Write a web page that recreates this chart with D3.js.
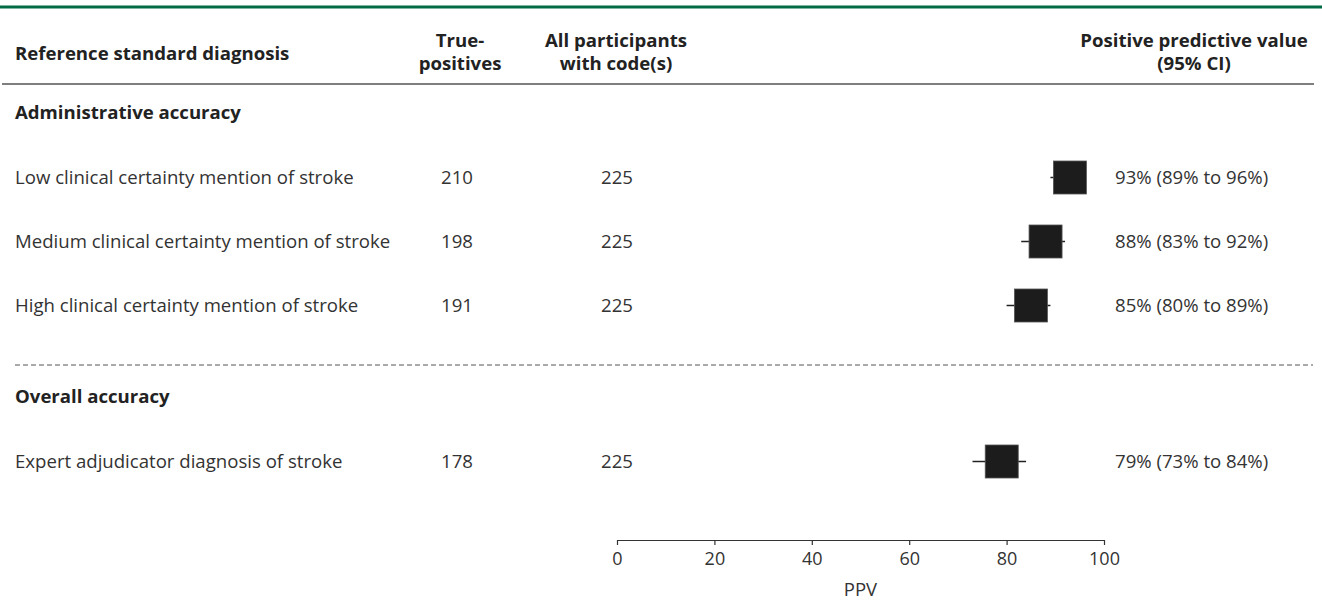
<!DOCTYPE html>
<html><head><meta charset="utf-8">
<script src="https://cdn.jsdelivr.net/npm/d3@7"></script>
<style>
html,body{margin:0;padding:0;background:#fff;}
svg{display:block;font-family:"Open Sans",sans-serif;}
</style></head>
<body><svg id="c" width="1322" height="604"></svg>
<script>
// ---- data ----
const sections = ["Administrative accuracy", "Overall accuracy"];
const labels = [
  "Low clinical certainty mention of stroke",
  "Medium clinical certainty mention of stroke",
  "High clinical certainty mention of stroke",
  "Expert adjudicator diagnosis of stroke"
];
const rowSection = [0, 0, 0, 1];
const truePositives = [210, 198, 191, 178];
const allWithCodes = [225, 225, 225, 225];
const ppv = [93, 88, 85, 79];
const ciLow = [89, 83, 80, 73];
const ciHigh = [96, 92, 89, 84];
const xTicks = [0, 20, 40, 60, 80, 100];

// ---- layout ----
const svg = d3.select("#c");
const W = 1322;
const FS = 18.6;
const x = d3.scaleLinear().domain([0, 100]).range([617, 1104]);
const rowY = [177.5, 241.5, 305.5, 461.5];
const sectionY = [112.5, 396];
const textCol = "#333";

// top green rule
svg.append("line").attr("x1", 0).attr("x2", W).attr("y1", 7).attr("y2", 7)
  .attr("stroke", "#006b45").attr("stroke-width", 3);

// headers
const hdr = svg.append("g").attr("font-weight", 700).attr("font-size", FS).attr("fill", "#222");
hdr.append("text").attr("x", 15).attr("y", 60).text("Reference standard diagnosis");
const h2 = hdr.append("text").attr("text-anchor", "middle");
h2.append("tspan").attr("x", 460).attr("y", 47).text("True-");
h2.append("tspan").attr("x", 460).attr("y", 70).text("positives");
const h3 = hdr.append("text").attr("text-anchor", "middle");
h3.append("tspan").attr("x", 616).attr("y", 47).text("All participants");
h3.append("tspan").attr("x", 616).attr("y", 70).text("with code(s)");
const h4 = hdr.append("text").attr("text-anchor", "middle");
h4.append("tspan").attr("x", 1194).attr("y", 47).text("Positive predictive value");
h4.append("tspan").attr("x", 1194).attr("y", 70).text("(95% CI)");

svg.append("line").attr("x1", 2).attr("x2", 1314).attr("y1", 84).attr("y2", 84)
  .attr("stroke", "#555").attr("stroke-width", 1.5);

// section headers
svg.selectAll("text.sec").data(sections).join("text").attr("class", "sec")
  .attr("x", 15).attr("y", (d, i) => sectionY[i]).attr("dy", "0.35em")
  .attr("font-weight", 700).attr("font-size", FS).attr("fill", "#222").text(d => d);

// dashed separator
svg.append("line").attr("x1", 15).attr("x2", 1313).attr("y1", 365).attr("y2", 365)
  .attr("stroke", "#555").attr("stroke-width", 1).attr("stroke-dasharray", "5,3");

// rows
const rows = svg.selectAll("g.row").data(labels).join("g").attr("class", "row")
  .attr("transform", (d, i) => `translate(0,${rowY[i]})`);
rows.append("text").attr("x", 15).attr("dy", "0.35em").attr("font-size", FS).attr("fill", textCol).text(d => d);
rows.append("text").attr("x", 457).attr("dy", "0.35em").attr("text-anchor", "middle")
  .attr("font-size", FS).attr("fill", textCol).text((d, i) => truePositives[i]);
rows.append("text").attr("x", 617).attr("dy", "0.35em").attr("text-anchor", "middle")
  .attr("font-size", FS).attr("fill", textCol).text((d, i) => allWithCodes[i]);
rows.append("line").attr("x1", (d, i) => x(ciLow[i])).attr("x2", (d, i) => x(ciHigh[i]))
  .attr("stroke", "#222").attr("stroke-width", 1.3);
const box = 33;
rows.append("rect").attr("x", (d, i) => x(ppv[i]) - box / 2).attr("y", -box / 2)
  .attr("width", box).attr("height", box).attr("fill", "#1c1c1c").attr("stroke", "#555").attr("stroke-width", 0.8);
rows.append("text").attr("x", 1115).attr("dy", "0.35em").attr("font-size", FS).attr("fill", textCol)
  .text((d, i) => `${ppv[i]}% (${ciLow[i]}% to ${ciHigh[i]}%)`);

// axis
const ax = svg.append("g").attr("transform", "translate(0,540)")
  .call(d3.axisBottom(x).tickValues(xTicks).tickSize(5).tickSizeOuter(0).tickFormat(d3.format("d")));
ax.select(".domain").attr("stroke", "#333").attr("stroke-width", 1.2);
ax.selectAll(".tick line").attr("stroke", "#333").attr("stroke-width", 1.2);
ax.selectAll(".tick text").attr("font-family", "Open Sans, sans-serif").attr("font-size", 18)
  .attr("fill", textCol).attr("y", 12);
svg.append("text").attr("x", x(50)).attr("y", 590).attr("dy", "0.35em").attr("text-anchor", "middle")
  .attr("font-size", 18.5).attr("fill", textCol).text("PPV");
</script></body></html>
